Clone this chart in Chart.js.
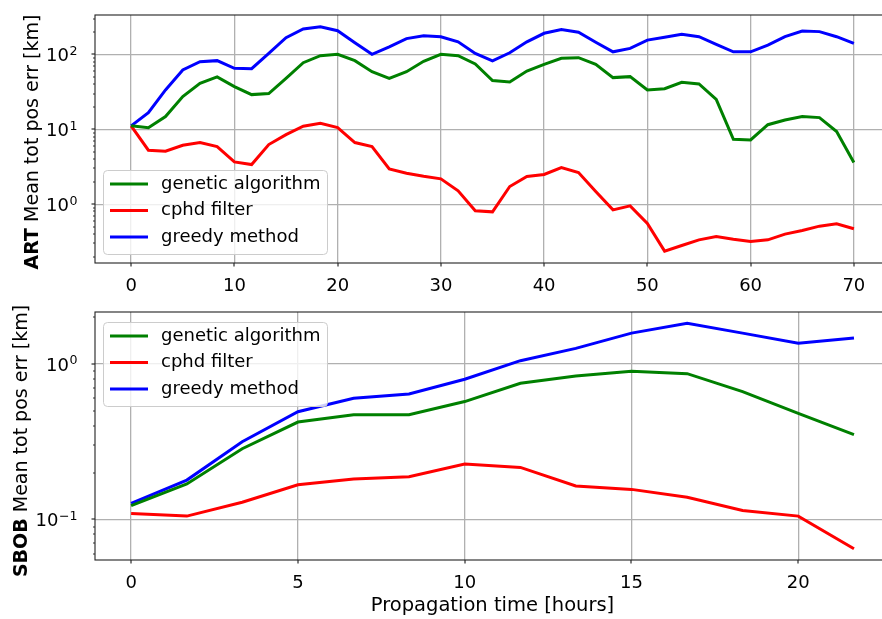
<!DOCTYPE html>
<html><head><meta charset="utf-8">
<script src="https://cdn.jsdelivr.net/npm/chart.js@4.4.0/dist/chart.umd.min.js"></script>
<style>
html,body{margin:0;padding:0;background:#fff;overflow:hidden;width:882px;height:619px;position:relative;}
canvas{position:absolute;left:0;}
#c1{top:0;}
#c2{top:300px;}
</style></head><body>
<canvas id="c1" width="900" height="305"></canvas>
<canvas id="c2" width="900" height="319"></canvas>
<script>
const seriesLabels = ['genetic algorithm', 'cphd filter', 'greedy method'];
const seriesColors = ['#008000', '#ff0000', '#0000ff'];

const artTime = [0,1.67,3.33,5,6.67,8.33,10,11.67,13.33,15,16.67,18.33,20,21.67,23.33,25,26.67,28.33,30,31.67,33.33,35,36.67,38.33,40,41.67,43.33,45,46.67,48.33,50,51.67,53.33,55,56.67,58.33,60,61.67,63.33,65,66.67,68.33,70];
const artGenetic = [11.1,10.5,14.8,27.3,41.0,49.9,37.1,29.0,29.9,47.9,77.4,96,100,82.4,58.7,47.9,58.7,80.7,100,96,74.3,44.6,42.8,59.9,73.6,88.5,90.3,73.6,48.9,50.4,33.4,34.8,42.3,40.2,25.1,7.36,7.21,11.5,13.3,14.8,14.3,9.31,3.59];
const artCphd = [11.1,5.25,5.09,6.12,6.64,5.87,3.67,3.38,6.25,8.49,11.0,12.0,10.5,6.64,5.87,2.96,2.59,2.36,2.18,1.51,0.815,0.79,1.72,2.34,2.49,3.08,2.64,1.48,0.84,0.95,0.552,0.236,0.281,0.334,0.371,0.341,0.318,0.334,0.398,0.446,0.509,0.547,0.469];
const artGreedy = [11.1,16.7,33.5,61.8,79.8,82.4,65.1,64.4,103,167,218,234,207,143,100,126,162,177,172,147,103,82,105,147,191,215,197,145,108,120,155,169,185,172,136,108,108,133,172,205,201,172,140];

const sbobTime = [0,1.67,3.33,5,6.67,8.33,10,11.67,13.33,15,16.67,18.33,20,21.67];
const sbobGenetic = [0.1225,0.169,0.285,0.423,0.472,0.472,0.573,0.751,0.837,0.897,0.866,0.664,0.481,0.351];
const sbobCphd = [0.109,0.105,0.129,0.167,0.182,0.188,0.227,0.216,0.164,0.156,0.139,0.114,0.105,0.0648];
const sbobGreedy = [0.127,0.179,0.316,0.493,0.601,0.641,0.797,1.05,1.26,1.58,1.83,1.58,1.36,1.47];

const artXTicks = [0,10,20,30,40,50,60,70];
const sbobXTicks = [0,5,10,15,20];
const artYTicks = [1,10,100];
const sbobYTicks = [0.1,1];

const FONT = 'DejaVu Sans';
function expOf(v){ return Math.round(Math.log10(v)); }

const framePlugin = {
  id: 'frame',
  afterDraw(chart, args, o) {
    const {ctx, chartArea: a, scales: {x, y}} = chart;
    ctx.save();
    // tick marks
    ctx.strokeStyle = '#000';
    ctx.lineWidth = 1;
    ctx.beginPath();
    o.xTicks.forEach(v => {
      const px = Math.round(x.getPixelForValue(v));
      ctx.moveTo(px, a.bottom); ctx.lineTo(px, a.bottom + 3.5);
    });
    o.yTicks.forEach(v => {
      const py = Math.round(y.getPixelForValue(v));
      ctx.moveTo(a.left, py); ctx.lineTo(a.left - 3.5, py);
    });
    ctx.stroke();
    ctx.lineWidth = 0.8;
    ctx.beginPath();
    const lo = Math.floor(Math.log10(y.min)), hi = Math.ceil(Math.log10(y.max));
    for (let e = lo; e <= hi; e++) {
      for (let m = 2; m <= 9; m++) {
        const v = m * Math.pow(10, e);
        if (v < y.min || v > y.max) continue;
        const py = Math.round(y.getPixelForValue(v));
        ctx.moveTo(a.left, py); ctx.lineTo(a.left - 2, py);
      }
    }
    ctx.stroke();
    // y tick labels: 10 with raised exponent
    const baseF = '18px "' + FONT + '"', supF = '12.6px "' + FONT + '"';
    ctx.fillStyle = '#000';
    ctx.textBaseline = 'alphabetic';
    ctx.textAlign = 'left';
    o.yTicks.forEach(v => {
      const py = y.getPixelForValue(v);
      const e = expOf(v);
      const es = (e < 0 ? '\u2212' : '') + Math.abs(e);
      ctx.font = baseF; const wb = ctx.measureText('10').width;
      ctx.font = supF; const we = ctx.measureText(es).width;
      const x0 = a.left - 18 - wb - we;
      ctx.font = baseF; ctx.fillText('10', x0, py + 7);
      ctx.font = supF; ctx.fillText(es, x0 + wb + 0.5, py + 0.5);
    });
    // spines
    ctx.strokeStyle = '#222';
    ctx.lineWidth = 1.1;
    ctx.strokeRect(Math.round(a.left), Math.round(a.top), Math.round(a.right - a.left), Math.round(a.bottom - a.top));
    // legend
    const lw = 224, lh = 84;
    const lx = a.left + 8;
    const ly = o.legendAt === 'lower' ? a.bottom - 9 - lh : a.top + 10;
    ctx.fillStyle = 'rgba(255,255,255,0.8)';
    ctx.strokeStyle = '#cccccc';
    ctx.lineWidth = 1;
    ctx.beginPath();
    ctx.roundRect(lx + 0.5, ly + 0.5, lw, lh, 4);
    ctx.fill(); ctx.stroke();
    ctx.font = '18px "' + FONT + '"';
    ctx.textBaseline = 'middle';
    ctx.textAlign = 'left';
    chart.data.datasets.forEach((ds, i) => {
      const ry = ly + 14 + i * 26.5;
      ctx.strokeStyle = ds.borderColor;
      ctx.lineWidth = 3;
      ctx.beginPath(); ctx.moveTo(lx + 7, ry); ctx.lineTo(lx + 45, ry); ctx.stroke();
      ctx.fillStyle = '#000';
      ctx.fillText(ds.label, lx + 58, ry);
    });
    // y axis title with bold prefix
    const cy = (a.top + a.bottom) / 2 + o.titleShift;
    ctx.translate(o.titleX, cy);
    ctx.rotate(-Math.PI / 2);
    const bold = 'bold 19px "' + FONT + '"', norm = '19px "' + FONT + '"';
    ctx.font = bold; const w1 = ctx.measureText(o.titleBold).width;
    ctx.font = norm; const w2 = ctx.measureText(o.titleRest).width;
    const sx = -(w1 + w2) / 2;
    ctx.textBaseline = 'alphabetic';
    ctx.fillStyle = '#000';
    ctx.font = bold; ctx.fillText(o.titleBold, sx, 0);
    ctx.font = norm; ctx.fillText(o.titleRest, sx + w1, 0);
    ctx.restore();
  }
};

function makeChart(id, cfg) {
  const datasets = [cfg.g, cfg.c, cfg.b].map((d, i) => ({
    label: seriesLabels[i],
    data: cfg.t.map((t, k) => ({x: t, y: d[k]})),
    borderColor: seriesColors[i],
    backgroundColor: seriesColors[i],
    borderWidth: 3,
    pointRadius: 0,
    tension: 0,
    fill: false
  }));
  return new Chart(document.getElementById(id), {
    type: 'line',
    data: {datasets},
    plugins: [framePlugin],
    options: {
      responsive: false,
      animation: false,
      events: [],
      layout: {padding: {left: 0, right: 10, top: cfg.padTop, bottom: 0}},
      plugins: {
        legend: {display: false},
        tooltip: {enabled: false},
        frame: {xTicks: cfg.xTicks, yTicks: cfg.yTicks, legendAt: cfg.legendAt, titleBold: cfg.titleBold, titleShift: cfg.titleShift, titleX: cfg.titleX, titleRest: ' Mean tot pos err [km]'}
      },
      scales: {
        x: {
          type: 'linear', min: cfg.xMin, max: cfg.xMax,
          afterBuildTicks: s => { s.ticks = cfg.xTicks.map(v => ({value: v})); },
          afterFit: s => { s.height = cfg.xHeight; s.paddingLeft = 0; s.paddingRight = 0; },
          ticks: {autoSkip: false, maxRotation: 0, padding: 13, color: '#000', font: {family: FONT, size: 18}, callback: v => String(v)},
          grid: {color: '#b0b0b0', lineWidth: 1.3, drawTicks: false},
          border: {display: false},
          title: cfg.xTitle ? {display: true, text: cfg.xTitle, color: '#000', font: {family: FONT, size: 19.5}, padding: {top: 0, bottom: 1}} : {display: false}
        },
        y: {
          type: 'logarithmic', min: cfg.yMin, max: cfg.yMax,
          afterBuildTicks: s => { s.ticks = cfg.yTicks.map(v => ({value: v})); },
          afterFit: s => { s.width = 95; s.paddingTop = 0; s.paddingBottom = 0; },
          ticks: {display: false, autoSkip: false},
          grid: {color: '#b0b0b0', lineWidth: 1.3, drawTicks: false},
          border: {display: false}
        }
      }
    }
  });
}

makeChart('c1', {
  t: artTime, g: artGenetic, c: artCphd, b: artGreedy,
  xMin: -3.5, xMax: 73.5, yMin: 0.164, yMax: 335,
  xTicks: artXTicks, yTicks: artYTicks,
  padTop: 15, xHeight: 42, legendAt: 'lower', titleBold: 'ART', titleShift: 3, titleX: 38
});
makeChart('c2', {
  t: sbobTime, g: sbobGenetic, c: sbobCphd, b: sbobGreedy,
  xMin: -1.0833, xMax: 22.75, yMin: 0.0548, yMax: 2.16,
  xTicks: sbobXTicks, yTicks: sbobYTicks,
  padTop: 12, xHeight: 59, legendAt: 'upper', titleBold: 'SBOB', titleShift: 5, titleX: 27,
  xTitle: 'Propagation time [hours]'
});
</script>
</body></html>
